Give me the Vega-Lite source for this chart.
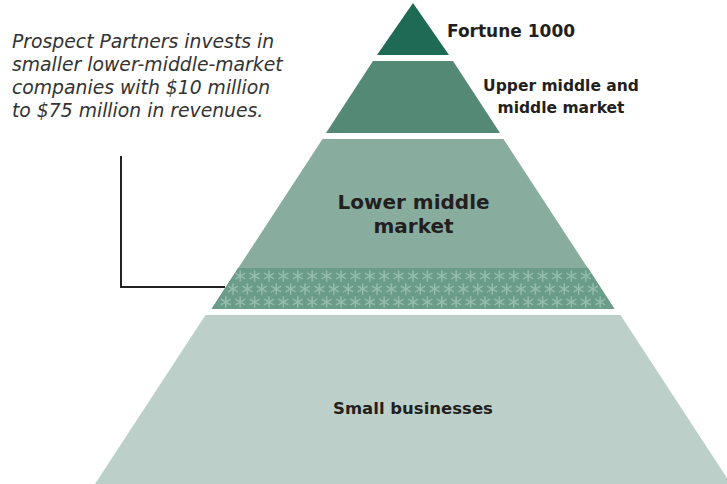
{
  "$schema": "https://vega.github.io/schema/vega-lite/v6.json",
  "width": 727,
  "height": 484,
  "padding": 0,
  "autosize": {"type": "none"},
  "background": "white",
  "config": {"view": {"stroke": null}},
  "datasets": {
    "tiers": [
      {"tier": "Fortune 1000", "y": 481, "x": 0, "x2": 0},
      {"tier": "Fortune 1000", "y": 429, "x": -36, "x2": 36},
      {"tier": "Upper middle and middle market", "y": 423, "x": -40, "x2": 40},
      {"tier": "Upper middle and middle market", "y": 351, "x": -87, "x2": 87},
      {"tier": "Lower middle market", "y": 345, "x": -90.5, "x2": 90.5},
      {"tier": "Lower middle market", "y": 175, "x": -201.5, "x2": 201.5},
      {"tier": "Small businesses", "y": 169, "x": -207.5, "x2": 207.5},
      {"tier": "Small businesses", "y": 0, "x": -318, "x2": 318}
    ],
    "focus": [
      {"tier": "Prospect Partners focus", "y": 216, "x": -175, "x2": 175},
      {"tier": "Prospect Partners focus", "y": 175, "x": -201.5, "x2": 201.5}
    ],
    "stars": [
      {"y": 208, "x": -172.8}, {"y": 208, "x": -158.4}, {"y": 208, "x": -144}, {"y": 208, "x": -129.6}, {"y": 208, "x": -115.2},
      {"y": 208, "x": -100.8}, {"y": 208, "x": -86.4}, {"y": 208, "x": -72}, {"y": 208, "x": -57.6}, {"y": 208, "x": -43.2},
      {"y": 208, "x": -28.8}, {"y": 208, "x": -14.4}, {"y": 208, "x": 0}, {"y": 208, "x": 14.4}, {"y": 208, "x": 28.8},
      {"y": 208, "x": 43.2}, {"y": 208, "x": 57.6}, {"y": 208, "x": 72}, {"y": 208, "x": 86.4}, {"y": 208, "x": 100.8},
      {"y": 208, "x": 115.2}, {"y": 208, "x": 129.6}, {"y": 208, "x": 144}, {"y": 208, "x": 158.4}, {"y": 208, "x": 172.8},
      {"y": 195, "x": -180}, {"y": 195, "x": -165.6}, {"y": 195, "x": -151.2}, {"y": 195, "x": -136.8}, {"y": 195, "x": -122.4},
      {"y": 195, "x": -108}, {"y": 195, "x": -93.6}, {"y": 195, "x": -79.2}, {"y": 195, "x": -64.8}, {"y": 195, "x": -50.4},
      {"y": 195, "x": -36}, {"y": 195, "x": -21.6}, {"y": 195, "x": -7.2}, {"y": 195, "x": 7.2}, {"y": 195, "x": 21.6},
      {"y": 195, "x": 36}, {"y": 195, "x": 50.4}, {"y": 195, "x": 64.8}, {"y": 195, "x": 79.2}, {"y": 195, "x": 93.6},
      {"y": 195, "x": 108}, {"y": 195, "x": 122.4}, {"y": 195, "x": 136.8}, {"y": 195, "x": 151.2}, {"y": 195, "x": 165.6},
      {"y": 195, "x": 180},
      {"y": 182, "x": -187.2}, {"y": 182, "x": -172.8}, {"y": 182, "x": -158.4}, {"y": 182, "x": -144}, {"y": 182, "x": -129.6},
      {"y": 182, "x": -115.2}, {"y": 182, "x": -100.8}, {"y": 182, "x": -86.4}, {"y": 182, "x": -72}, {"y": 182, "x": -57.6},
      {"y": 182, "x": -43.2}, {"y": 182, "x": -28.8}, {"y": 182, "x": -14.4}, {"y": 182, "x": 0}, {"y": 182, "x": 14.4},
      {"y": 182, "x": 28.8}, {"y": 182, "x": 43.2}, {"y": 182, "x": 57.6}, {"y": 182, "x": 72}, {"y": 182, "x": 86.4},
      {"y": 182, "x": 100.8}, {"y": 182, "x": 115.2}, {"y": 182, "x": 129.6}, {"y": 182, "x": 144}, {"y": 182, "x": 158.4},
      {"y": 182, "x": 172.8}, {"y": 182, "x": 187.2}
    ],
    "connector": [
      {"i": 1, "x": -292, "y": 328},
      {"i": 2, "x": -292, "y": 197},
      {"i": 3, "x": -188, "y": 197}
    ]
  },
  "encoding": {
    "x": {"field": "x", "type": "quantitative", "scale": {"domain": [-413, 314], "nice": false, "zero": false}, "axis": null},
    "y": {"field": "y", "type": "quantitative", "scale": {"domain": [0, 484], "nice": false, "zero": false}, "axis": null}
  },
  "layer": [
    {
      "data": {"name": "tiers"},
      "mark": {"type": "area", "orient": "horizontal", "interpolate": "linear"},
      "encoding": {
        "x": {"field": "x", "type": "quantitative", "stack": null},
        "x2": {"field": "x2"},
        "color": {
          "field": "tier", "type": "nominal", "legend": null,
          "scale": {
            "domain": ["Fortune 1000", "Upper middle and middle market", "Lower middle market", "Small businesses", "Prospect Partners focus"],
            "range": ["#1f6a54", "#548976", "#88ad9e", "#bcd0c9", "#6b9c8a"]
          }
        }
      }
    },
    {
      "data": {"name": "focus"},
      "mark": {"type": "area", "orient": "horizontal", "interpolate": "linear", "color": "#6b9c8a"},
      "encoding": {
        "x": {"field": "x", "type": "quantitative", "stack": null},
        "x2": {"field": "x2"}
      }
    },
    {
      "data": {"name": "stars"},
      "mark": {
        "type": "point",
        "shape": "M0,-1L0,1M-0.87,-0.5L0.87,0.5M-0.87,0.5L0.87,-0.5",
        "filled": false,
        "size": 130,
        "stroke": "#94bdae",
        "strokeWidth": 1.5,
        "opacity": 1
      }
    },
    {
      "data": {"name": "connector"},
      "mark": {"type": "line", "color": "#222222", "strokeWidth": 2, "strokeCap": "butt", "strokeJoin": "miter"},
      "encoding": {"order": {"field": "i", "type": "quantitative"}}
    },
    {
      "data": {"values": [{"x": 34, "y": 447, "label": "Fortune 1000"}]},
      "mark": {"type": "text", "align": "left", "baseline": "alphabetic", "font": "DejaVu Sans", "fontWeight": "bold", "fontSize": 17, "color": "#231f20"},
      "encoding": {"text": {"field": "label"}}
    },
    {
      "data": {"values": [{"x": 148, "y": 393, "label": ["Upper middle and", "middle market"]}]},
      "mark": {"type": "text", "align": "center", "baseline": "alphabetic", "font": "DejaVu Sans", "fontWeight": "bold", "fontSize": 15.5, "lineHeight": 22, "color": "#231f20"},
      "encoding": {"text": {"field": "label"}}
    },
    {
      "data": {"values": [{"x": 0.5, "y": 275, "label": ["Lower middle", "market"]}]},
      "mark": {"type": "text", "align": "center", "baseline": "alphabetic", "font": "DejaVu Sans", "fontWeight": "bold", "fontSize": 20, "lineHeight": 24, "color": "#231f20"},
      "encoding": {"text": {"field": "label"}}
    },
    {
      "data": {"values": [{"x": 0, "y": 70, "label": "Small businesses"}]},
      "mark": {"type": "text", "align": "center", "baseline": "alphabetic", "font": "DejaVu Sans", "fontWeight": "bold", "fontSize": 16.5, "color": "#231f20"},
      "encoding": {"text": {"field": "label"}}
    },
    {
      "data": {"values": [{"x": -401, "y": 436, "label": ["Prospect Partners invests in", "smaller lower-middle-market", "companies with $10 million", "to $75 million in revenues."]}]},
      "mark": {"type": "text", "align": "left", "baseline": "alphabetic", "font": "DejaVu Sans", "fontStyle": "italic", "fontSize": 18.8, "lineHeight": 23, "color": "#333333"},
      "encoding": {"text": {"field": "label"}}
    }
  ]
}
